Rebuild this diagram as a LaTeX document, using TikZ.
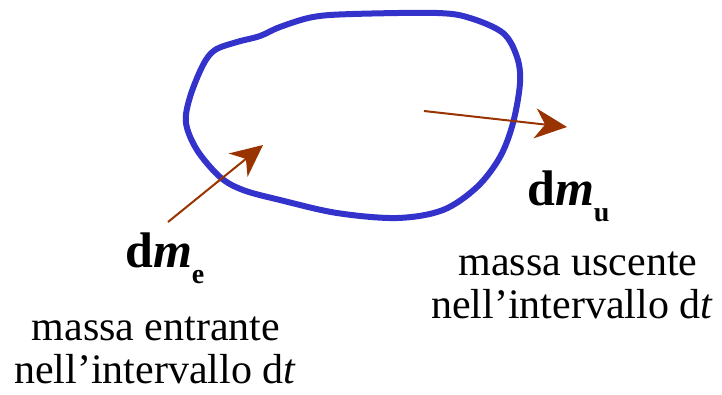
\documentclass[tikz,border=0pt]{standalone}
\usepackage{fontspec}
\setmainfont{Liberation Serif}
\newfontfamily\figfont{Liberation Serif}
\usetikzlibrary{arrows.meta}
\definecolor{cvblue}{HTML}{3333CC}
\definecolor{flowbrown}{HTML}{993300}
\tikzset{
  boundary/.style={draw=cvblue, line width=6pt, line join=round},
  flow/.style={draw=flowbrown, line width=2pt,
    -{Stealth[length=32pt, width=30pt, inset=10pt]}},
  massname/.style={inner sep=0pt, anchor=base west,
    font=\figfont\fontsize{50}{56}\selectfont\bfseries},
  linelabel/.style={inner sep=0pt, anchor=base,
    font=\figfont\fontsize{42}{48}\selectfont}
}
\newcommand{\massdiff}[1]{d\textit{m}\raisebox{-16pt}{\fontsize{28}{30}\selectfont\bfseries #1}}
\begin{document}
\begin{tikzpicture}[x=1pt, y=-1pt]
  \useasboundingbox (0,0) rectangle (722,394);

  % control volume boundary
  \draw[boundary] plot[smooth cycle, tension=0.55] coordinates {
    (186,123) (190,97) (203,65) (215,50) (237,42) (260,36) (280,27)
    (313,17) (353,14) (437,13) (470,18) (503,33) (517,57) (520,83)
    (513,123) (500,157) (477,187) (443,210) (397,218) (337,213)
    (280,200) (243,190) (220,177) (197,150)};

  % mass flow arrows
  \coordinate (inStart) at (168,222);
  \coordinate (inTip) at (263,145);
  \coordinate (outStart) at (424,111);
  \coordinate (outTip) at (567,127);
  \draw[flow] (inStart) -- (inTip);
  \draw[flow] (outStart) -- (outTip);

  % mass symbols
  \node[massname] (dme) at (125,267) {\massdiff{e}};
  \node[massname] (dmu) at (527,205) {\massdiff{u}};

  % captions
  \node[linelabel] (inLine1) at (156,340) {massa entrante};
  \node[linelabel] (inLine2) at (155,383) {nell’intervallo d\textit{t}};
  \node[linelabel] (outLine1) at (578,275) {massa uscente};
  \node[linelabel] (outLine2) at (572,318) {nell’intervallo d\textit{t}};
\end{tikzpicture}
\end{document}
